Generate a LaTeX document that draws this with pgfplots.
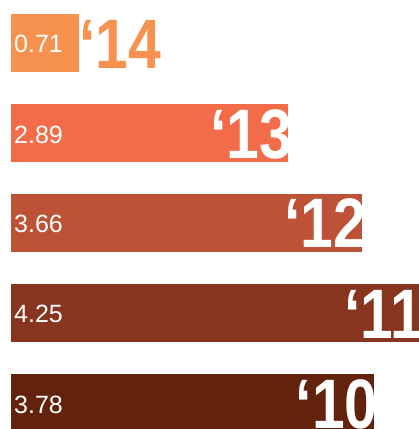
\documentclass[border=0pt]{standalone}
\usepackage{pgfplots}
\pgfplotsset{compat=1.18}
\usepackage{fontspec}
\setmainfont{Liberation Sans}
\newfontfamily\yearfont{Liberation Sans}[FakeStretch=0.84]
\definecolor{c14}{RGB}{247,145,80}
\definecolor{c13}{RGB}{242,108,74}
\definecolor{c12}{RGB}{190,82,55}
\definecolor{c11}{RGB}{135,53,30}
\definecolor{c10}{RGB}{98,34,12}
\begin{document}
\begin{tikzpicture}
\useasboundingbox (0,0) rectangle (419pt,429pt);
\clip (0,0) rectangle (419pt,429pt);
\begin{axis}[
  anchor=south west, at={(0,0)},
  scale only axis, width=419pt, height=429pt,
  xmin=-0.11458, xmax=4.25, ymin=-0.28889, ymax=4.47778,
  hide axis, xbar, bar width=58pt, bar shift=0pt,
]
\addplot[fill=c10, draw=none] coordinates {(3.78,0)};
\addplot[fill=c11, draw=none] coordinates {(4.25,1)};
\addplot[fill=c12, draw=none] coordinates {(3.66,2)};
\addplot[fill=c13, draw=none] coordinates {(2.89,3)};
\addplot[fill=c14, draw=none] coordinates {(0.71,4)};
\coordinate (z10) at (axis cs:0,0);   \coordinate (e10) at (axis cs:3.78,0);
\coordinate (z11) at (axis cs:0,1);   \coordinate (e11) at (axis cs:4.25,1);
\coordinate (z12) at (axis cs:0,2);   \coordinate (e12) at (axis cs:3.66,2);
\coordinate (z13) at (axis cs:0,3);   \coordinate (e13) at (axis cs:2.89,3);
\coordinate (z14) at (axis cs:0,4);   \coordinate (e14) at (axis cs:0.71,4);
\end{axis}
\tikzset{vl/.style={anchor=base west, text=white, inner sep=0pt, font=\fontsize{25}{25}\selectfont},
  yl/.style={anchor=base east, inner sep=0pt, text=white, font=\yearfont\bfseries\fontsize{70}{70}\selectfont}}
\foreach \k/\v in {10/3.78,11/4.25,12/3.66,13/2.89,14/0.71}{
  \node[vl] at ([xshift=3pt,yshift=-10pt]z\k) {\v};
}
\foreach \k in {10,11,12,13}{
  \begin{scope}
    \clip ([yshift=-29pt]z\k) rectangle ([yshift=29pt]e\k);
    \node[yl] at ([xshift=4pt,yshift=-25pt]e\k) {‘\k};
  \end{scope}
}
\node[yl, anchor=base west, text=c14] at ([xshift=0pt,yshift=-25pt]e14) {‘14};
\end{tikzpicture}
\end{document}
